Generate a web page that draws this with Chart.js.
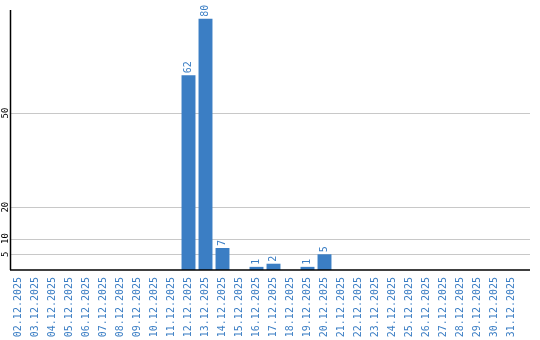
<!DOCTYPE html>
<html>
<head>
<meta charset="utf-8">
<script src="https://cdn.jsdelivr.net/npm/chart.js@4/dist/chart.umd.min.js"></script>
<style>
html,body{margin:0;padding:0;background:#fff;}
#wrap{width:540px;height:340px;}
</style>
</head>
<body>
<div id="wrap"><canvas id="c" width="540" height="340"></canvas></div>
<script>
const categories = ["02.12.2025","03.12.2025","04.12.2025","05.12.2025","06.12.2025","07.12.2025","08.12.2025","09.12.2025","10.12.2025","11.12.2025","12.12.2025","13.12.2025","14.12.2025","15.12.2025","16.12.2025","17.12.2025","18.12.2025","19.12.2025","20.12.2025","21.12.2025","22.12.2025","23.12.2025","24.12.2025","25.12.2025","26.12.2025","27.12.2025","28.12.2025","29.12.2025","30.12.2025","31.12.2025"];
const values = [0,0,0,0,0,0,0,0,0,0,62,80,7,0,1,2,0,1,5,0,0,0,0,0,0,0,0,0,0,0];
const yTicks = [5,10,20,50];

const BLUE = '#3b7ec4';
const MONO = '"DejaVu Sans Mono", "Liberation Mono", monospace';

const decor = {
  id: 'decor',
  beforeDatasetsDraw(chart) {
    const {ctx, chartArea: a, scales: {y}} = chart;
    ctx.save();
    ctx.strokeStyle = '#c8c8c8';
    ctx.lineWidth = 1;
    yTicks.forEach(v => {
      const py = Math.round(y.getPixelForValue(v)) + 0.5;
      ctx.beginPath(); ctx.moveTo(a.left, py); ctx.lineTo(a.right + 10, py); ctx.stroke();
    });
    ctx.fillStyle = '#000';
    ctx.font = '9px ' + MONO;
    ctx.textAlign = 'center';
    ctx.textBaseline = 'alphabetic';
    yTicks.forEach(v => {
      const py = y.getPixelForValue(v);
      ctx.save(); ctx.translate(a.left - 2, py); ctx.rotate(-Math.PI/2);
      ctx.fillText(String(v), 0, 0); ctx.restore();
    });
    ctx.restore();
  },
  afterDatasetsDraw(chart) {
    const {ctx, chartArea: a} = chart;
    ctx.save();
    ctx.strokeStyle = '#000';
    ctx.lineWidth = 1.5;
    ctx.beginPath(); ctx.moveTo(a.left + 0.5, a.top); ctx.lineTo(a.left + 0.5, a.bottom); ctx.stroke();
    ctx.beginPath(); ctx.moveTo(a.left, a.bottom); ctx.lineTo(a.right + 10, a.bottom); ctx.stroke();
    const meta = chart.getDatasetMeta(0);
    ctx.fillStyle = BLUE;
    ctx.font = '10px ' + MONO;
    ctx.textAlign = 'left';
    ctx.textBaseline = 'middle';
    meta.data.forEach((bar, i) => {
      const v = values[i];
      if (!v) return;
      ctx.save(); ctx.translate(bar.x, bar.y - 2); ctx.rotate(-Math.PI/2);
      ctx.fillText(String(v), 0, 0); ctx.restore();
    });
    ctx.restore();
  }
};

new Chart(document.getElementById('c'), {
  type: 'bar',
  data: {
    labels: categories,
    datasets: [{
      data: values,
      backgroundColor: BLUE,
      borderWidth: 0,
      categoryPercentage: 1,
      barPercentage: 0.82
    }]
  },
  options: {
    responsive: false,
    animation: false,
    events: [],
    layout: {padding: {left: 10, top: 10, right: 20, bottom: 0}},
    plugins: {legend: {display: false}, tooltip: {enabled: false}},
    scales: {
      x: {
        grid: {display: false, drawTicks: false},
        border: {display: false},
        ticks: {
          autoSkip: false, maxRotation: 90, minRotation: 90, padding: 7,
          color: BLUE, font: {family: MONO, size: 10}
        },
        afterFit: s => { s.height = 70; }
      },
      y: {
        display: false,
        min: 0, max: 82.8
      }
    }
  },
  plugins: [decor]
});
</script>
</body>
</html>
